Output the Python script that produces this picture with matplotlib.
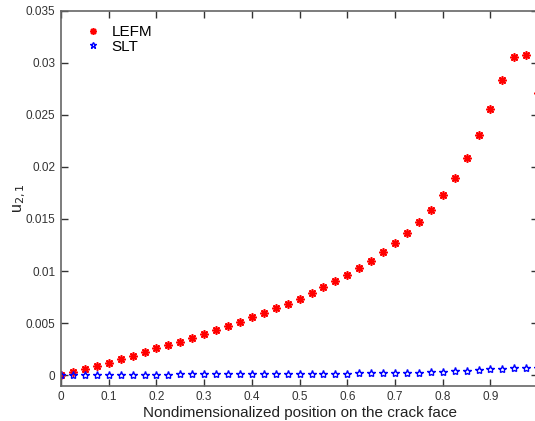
import matplotlib

matplotlib.use('Agg')
import matplotlib.pyplot as plt
import numpy as np

# positions along the crack face (0 .. 1, step 0.025)
x_pos = [i / 40 for i in range(41)]

lefm = [0.0, 0.00029, 0.00058, 0.00093, 0.00122, 0.00157, 0.00189, 0.00224,
        0.00259, 0.00291, 0.00323, 0.00361, 0.00397, 0.00438, 0.00477, 0.00512,
        0.00556, 0.00598, 0.00643, 0.00685, 0.00736, 0.0079, 0.00844, 0.00901,
        0.00963, 0.0103, 0.0110, 0.0118, 0.01266, 0.01362, 0.01467, 0.0159,
        0.01733, 0.01893, 0.02085, 0.02308, 0.02557, 0.02829, 0.0305, 0.03075,
        0.02708]

slt = [0.0, 0.00002, 0.00003, 0.00003, 0.00004, 0.00004, 0.00005, 0.00005,
       0.00006, 0.00006, 0.00007, 0.00007, 0.00008, 0.00008, 0.00009, 0.00009,
       0.0001, 0.0001, 0.0001, 0.00011, 0.00012, 0.00013, 0.00014, 0.00015,
       0.00016, 0.00017, 0.00018, 0.0002, 0.00022, 0.00024, 0.00026, 0.00029,
       0.00033, 0.00038, 0.00043, 0.00048, 0.00055, 0.00061, 0.00068, 0.0007,
       0.00072]

xticks = [0, 0.1, 0.2, 0.3, 0.4, 0.5, 0.6, 0.7, 0.8, 0.9]
xtick_labels = ['0', '0.1', '0.2', '0.3', '0.4', '0.5', '0.6', '0.7', '0.8', '0.9']
yticks = [0, 0.005, 0.01, 0.015, 0.02, 0.025, 0.03, 0.035]
ytick_labels = ['0', '0.005', '0.01', '0.015', '0.02', '0.025', '0.03', '0.035']

plt.rcParams['font.family'] = ['Liberation Sans', 'DejaVu Sans']

fig = plt.figure(figsize=(5.35, 4.21), dpi=100)
ax = fig.add_axes([0.114, 0.084, 0.892, 0.891])

ax.plot(x_pos, lefm, linestyle='none', marker=(8, 2, 0), markersize=6,
        markeredgewidth=1.2, color='red', label='LEFM')
ax.plot(x_pos, slt, linestyle='none', marker='*', markersize=6,
        markerfacecolor='none', markeredgewidth=1.0, color='blue', label='SLT')

ax.set_xlim(0, 1)
ax.set_ylim(-0.001, 0.035)
ax.set_xticks(xticks)
ax.set_xticklabels(xtick_labels)
ax.set_yticks(yticks)
ax.set_yticklabels(ytick_labels)
ax.tick_params(direction='in', top=True, right=True, length=5, width=1,
               color='#333333', labelsize=8.5, labelcolor='#333333', pad=4)
for s in ax.spines.values():
    s.set_color('#666666')
    s.set_linewidth(1.2)

ax.set_xlabel('Nondimensionalized position on the crack face', fontsize=11,
              color='#222222', labelpad=2)
ax.set_ylabel('u$_{2,1}$', fontsize=11.5, color='#222222', labelpad=-2)

ax.legend(loc='upper left', frameon=False, fontsize=11, handletextpad=0.5,
          handlelength=1.5, markerscale=0.8, borderaxespad=0.3,
          labelspacing=0.05, bbox_to_anchor=(0.02, 0.99))

fig.savefig('out.png', dpi=100)
